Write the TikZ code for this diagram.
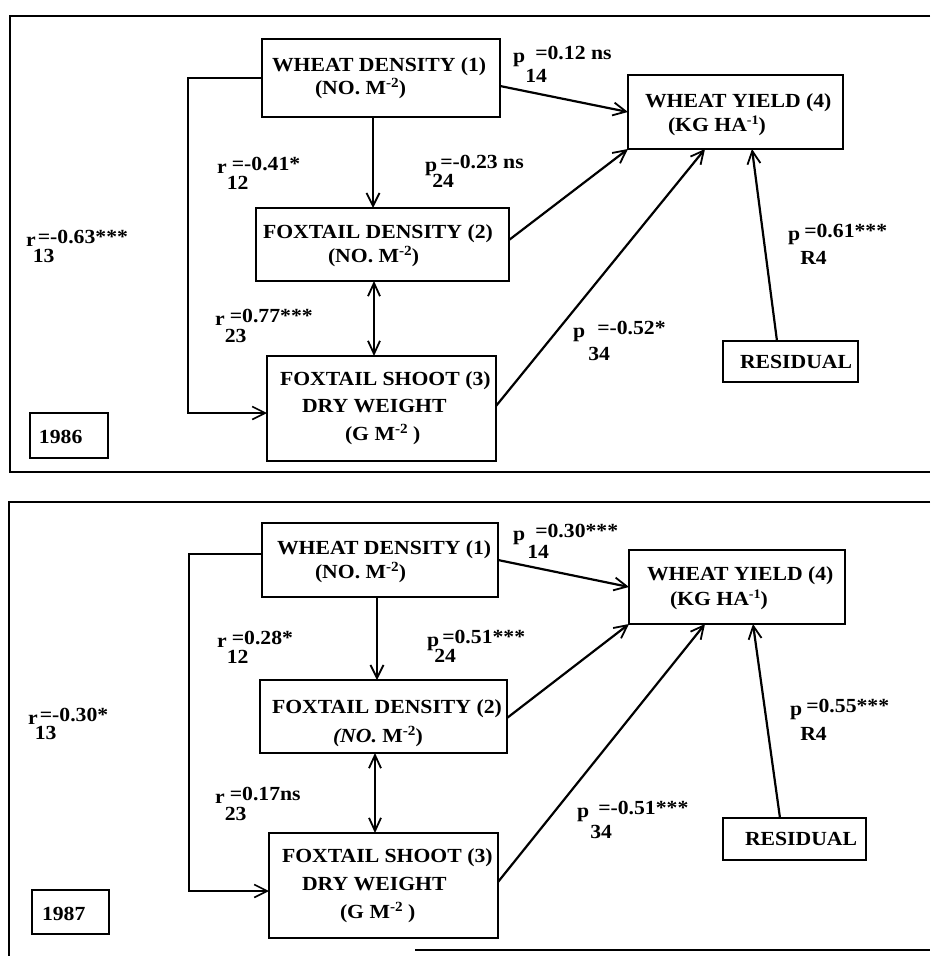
\documentclass[tikz,border=0pt]{standalone}
\usepackage{fontspec}
\setmainfont{Liberation Serif}[FakeStretch=1.085]
\usetikzlibrary{arrows.meta}
\setlength{\unitlength}{1pt}
\newcommand\bx[3]{\begin{picture}(#1,#2)#3\end{picture}}
\newcommand\sups[1]{\raisebox{6.5pt}{\fontsize{14}{14}\selectfont #1}}
\newcommand\supsm[1]{\raisebox{7pt}{\fontsize{13}{13}\selectfont #1}}
\newcommand\coef[6]{#1\makebox[0pt][l]{\hspace*{#4pt}\raisebox{-#5pt}{#2}}\hspace*{#6pt}\raisebox{3pt}{#3}}
\begin{document}
\begin{tikzpicture}[x=1pt,y=-1pt,
  font=\fontsize{20}{22}\selectfont\bfseries,
  box/.style={draw, line width=1.6pt, inner sep=0pt, outer sep=0pt, anchor=north west},
  lbl/.style={inner sep=0pt, anchor=base west},
  arr/.style={line width=2.2pt, -{Straight Barb[length=13pt,width=13pt,line width=1.8pt]}},
  darr/.style={line width=2pt, {Straight Barb[length=13pt,width=12pt,line width=1.8pt]}-{Straight Barb[length=13pt,width=12pt,line width=1.8pt]}},
  brk/.style={line width=1.6pt, -{Straight Barb[length=13pt,width=13pt,line width=1.6pt]}},
  frame/.style={line width=2pt}]
\useasboundingbox (0,0) rectangle (930,956);

% ---------------- 1986 panel ----------------
\draw[frame] (930,16) -- (10,16) -- (10,472) -- (930,472);

\node[box] (wd1) at (262,39) {\bx{238}{78}{\put(10,46){WHEAT DENSITY (1)}\put(53,23){(NO. M\sups{-2})}}};
\node[box] (fd1) at (256,208) {\bx{253}{73}{\put(7,43){FOXTAIL DENSITY (2)}\put(72,19){(NO. M\sups{-2})}}};
\node[box] (fs1) at (267,356) {\bx{229}{105}{\put(13,76){FOXTAIL SHOOT (3)}\put(35,49){DRY WEIGHT}\put(78,21){(G M\sups{-2} )}}};
\node[box] (wy1) at (628,75) {\bx{215}{74}{\put(17,42){WHEAT YIELD (4)}\put(40,18){(KG HA\supsm{-1})}}};
\node[box] (res1) at (723,341) {\bx{135}{41}{\put(17,14){RESIDUAL}}};
\node[box] (yr1) at (30,413) {\bx{78}{45}{\put(9,15){1986}}};

\draw[arr] ([xshift=111pt]wd1.south west) -- ([xshift=117pt]fd1.north west);
\draw[darr] ([xshift=118pt]fd1.south west) -- ([xshift=107pt]fs1.north west);
\draw[brk] (wd1.west) -- ++(-74,0) |- ([yshift=-4.5pt]fs1.west);
\draw[arr] ([yshift=-8pt]wd1.east) -- (wy1.west);
\draw[arr] ([yshift=4.5pt]fd1.east) -- (wy1.south west);
\draw[arr] ([yshift=2.5pt]fs1.east) -- ([xshift=77pt]wy1.south west);
\draw[arr] ([xshift=54pt]res1.north west) -- ([xshift=124pt]wy1.south west);

\node[lbl] (r13a) at (26,246) {\coef{r}{13}{=-0.63***}{-3}{16}{2}};
\node[lbl] (r12a) at (217,173) {\coef{r}{12}{=-0.41*}{0}{16}{5}};
\node[lbl] (r23a) at (215,325) {\coef{r}{23}{=0.77***}{0}{17}{5}};
\node[lbl] (p24a) at (425,171) {\coef{p}{24}{=-0.23 ns}{-5}{16}{3}};
\node[lbl] (p14a) at (513,62) {\coef{p}{14}{=0.12 ns}{0}{20}{10}};
\node[lbl] (p34a) at (573,337) {\coef{p}{34}{=-0.52*}{3}{23}{12}};
\node[lbl] (pR4a) at (788,240) {\coef{p}{R4}{=0.61***}{0}{24}{4}};

% ---------------- 1987 panel ----------------
\draw[frame] (930,502) -- (9,502) -- (9,956);
\draw[frame] (415,950) -- (930,950);

\node[box] (wd2) at (262,523) {\bx{236}{74}{\put(15,43){WHEAT DENSITY (1)}\put(53,19){(NO. M\sups{-2})}}};
\node[box] (fd2) at (260,680) {\bx{247}{73}{\put(12,40){FOXTAIL DENSITY (2)}\put(73,11){\textit{(NO.} M\sups{-2})}}};
\node[box] (fs2) at (269,833) {\bx{229}{105}{\put(13,76){FOXTAIL SHOOT (3)}\put(33,48){DRY WEIGHT}\put(71,20){(G M\sups{-2} )}}};
\node[box] (wy2) at (629,550) {\bx{216}{74}{\put(18,44){WHEAT YIELD (4)}\put(41,19){(KG HA\supsm{-1})}}};
\node[box] (res2) at (723,818) {\bx{143}{42}{\put(22,15){RESIDUAL}}};
\node[box] (yr2) at (32,890) {\bx{77}{44}{\put(10,14){1987}}};

\draw[arr] ([xshift=115pt]wd2.south west) -- ([xshift=117pt]fd2.north west);
\draw[darr] ([xshift=115pt]fd2.south west) -- ([xshift=106pt]fs2.north west);
\draw[brk] ([yshift=6pt]wd2.west) -- ++(-73,0) |- ([yshift=-5.5pt]fs2.west);
\draw[arr] (wd2.east) -- (wy2.west);
\draw[arr] ([yshift=-1.5pt]fd2.east) -- (wy2.south west);
\draw[arr] ([yshift=3.5pt]fs2.east) -- ([xshift=76pt]wy2.south west);
\draw[arr] ([xshift=57pt]res2.north west) -- ([xshift=124pt]wy2.south west);

\node[lbl] (r13b) at (28,724) {\coef{r}{13}{=-0.30*}{-3}{15}{2}};
\node[lbl] (r12b) at (217,647) {\coef{r}{12}{=0.28*}{0}{16}{5}};
\node[lbl] (r23b) at (215,803) {\coef{r}{23}{=0.17ns}{0}{17}{5}};
\node[lbl] (p24b) at (427,646) {\coef{p}{24}{=0.51***}{-5}{16}{3}};
\node[lbl] (p14b) at (513,540) {\coef{p}{14}{=0.30***}{2}{18}{10}};
\node[lbl] (p34b) at (577,817) {\coef{p}{34}{=-0.51***}{1}{21}{9}};
\node[lbl] (pR4b) at (790,715) {\coef{p}{R4}{=0.55***}{-2}{25}{4}};
\end{tikzpicture}
\end{document}
